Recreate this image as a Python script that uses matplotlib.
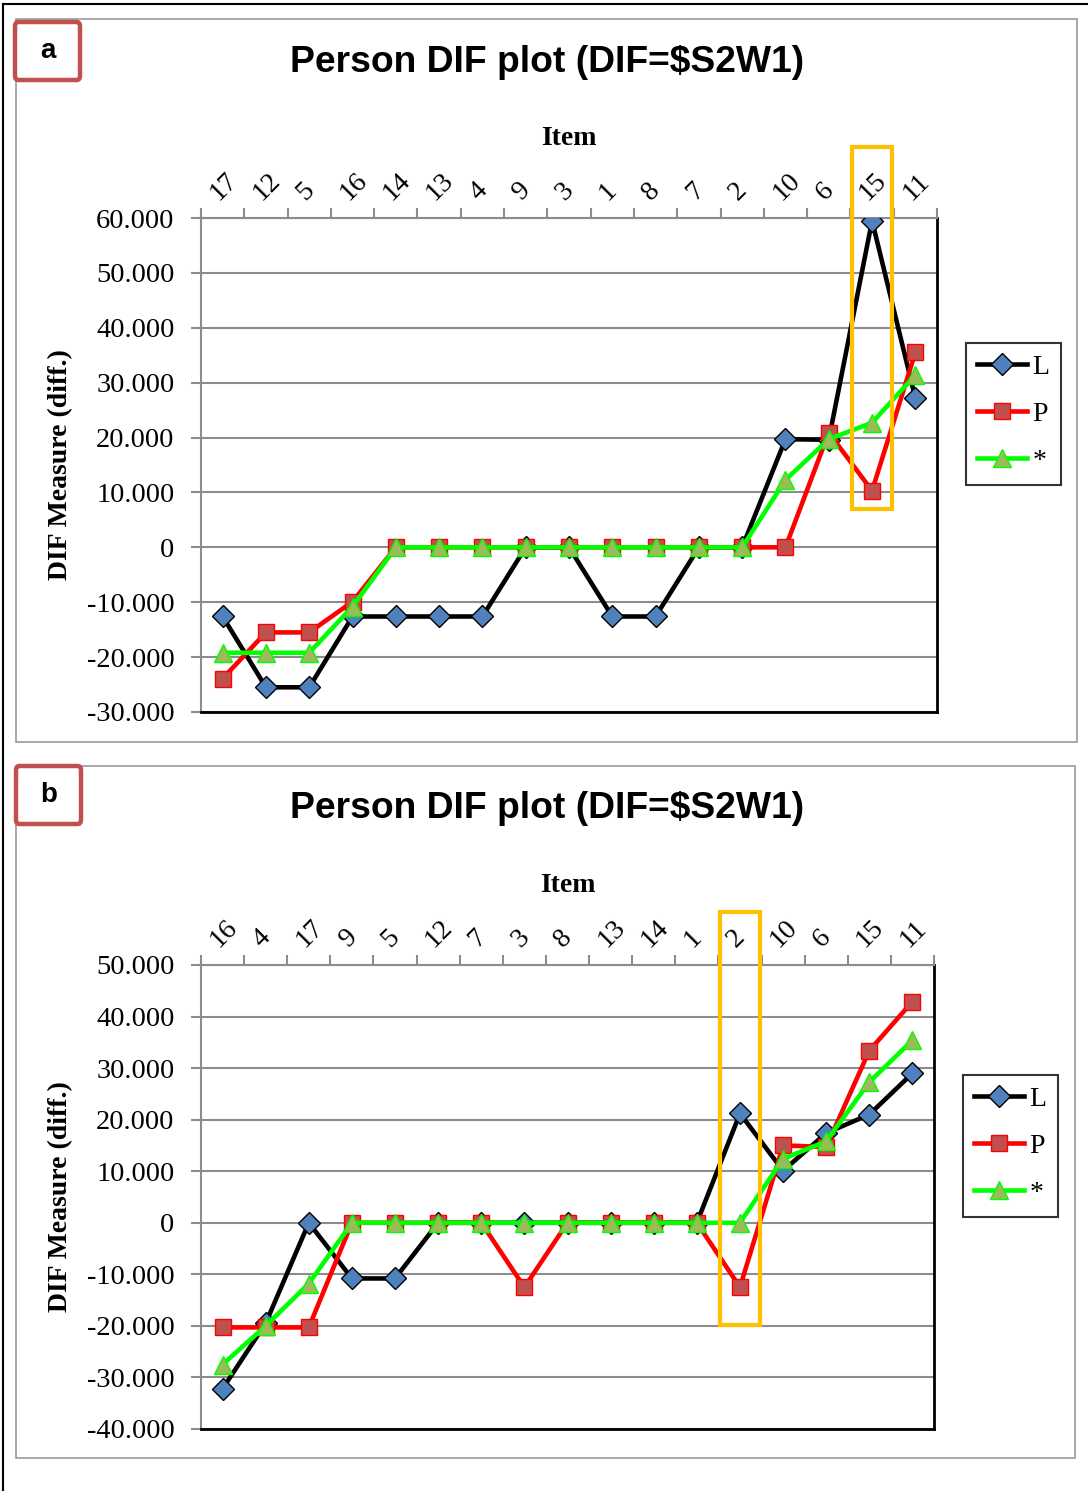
import matplotlib
matplotlib.use("Agg")
import matplotlib.pyplot as plt
from matplotlib.patches import Rectangle, FancyBboxPatch
from matplotlib.lines import Line2D

W, H = 1088, 1491

# panel a
items_a = ["17", "12", "5", "16", "14", "13", "4", "9", "3", "1", "8", "7", "2", "10", "6", "15", "11"]
L_a = [-12.6, -25.5, -25.5, -12.6, -12.6, -12.6, -12.6, 0, 0, -12.6, -12.6, 0, 0, 19.7, 19.6, 59.5, 27.2]
P_a = [-23.9, -15.5, -15.5, -9.9, 0, 0, 0, 0, 0, 0, 0, 0, 0, 0, 20.9, 10.3, 35.5]
S_a = [-19.2, -19.2, -19.2, -10.8, 0, 0, 0, 0, 0, 0, 0, 0, 0, 12.3, 19.7, 22.7, 31.4]
yticks_a = [-30, -20, -10, 0, 10, 20, 30, 40, 50, 60]

# panel b
items_b = ["16", "4", "17", "9", "5", "12", "7", "3", "8", "13", "14", "1", "2", "10", "6", "15", "11"]
L_b = [-32.2, -19.5, 0, -10.8, -10.8, 0, 0, 0, 0, 0, 0, 0, 21.2, 10.1, 17.4, 21.0, 29.0]
P_b = [-20.3, -20.3, -20.3, 0, 0, 0, 0, -12.5, 0, 0, 0, 0, -12.5, 15.0, 14.7, 33.4, 42.9]
S_b = [-27.5, -20.0, -11.8, 0, 0, 0, 0, 0, 0, 0, 0, 0, 0, 12.4, 15.8, 27.3, 35.4]
yticks_b = [-40, -30, -20, -10, 0, 10, 20, 30, 40, 50]

TITLE = "Person DIF plot (DIF=$S2W1)"
SERIF = ["Liberation Serif", "DejaVu Serif"]
SANS = ["Liberation Sans", "DejaVu Sans"]

STYLE_L = dict(color="black", lw=3.3, marker="D", ms=11, mfc="#4F81BD", mec="black", mew=1)
STYLE_P = dict(color="#FF0000", lw=3.3, marker="s", ms=12, mfc="#C0504D", mec="#FF0000", mew=1)
STYLE_S = dict(color="#00FF00", lw=3.3, marker="^", ms=13, mfc="#9BBB59", mec="#00FF00", mew=1)


def fx(x):
    return x / W


def fy(y):
    return 1 - y / H


def fig_rect(fig, x0, y0, x1, y1, color, lw):
    fig.patches.append(Rectangle((fx(x0), fy(y1)), fx(x1) - fx(x0), fy(y0) - fy(y1),
                                 transform=fig.transFigure, fill=False, edgecolor=color, linewidth=lw))


def draw_panel(fig, rect, items, L, P, S, yticks, hl_idx, hl_y, legend_xy):
    ax = fig.add_axes(rect)
    n = len(items)
    x = [i + 0.5 for i in range(n)]

    ax.plot(x, L, zorder=3, **STYLE_L)
    ax.plot(x, P, zorder=4, **STYLE_P)
    ax.plot(x, S, zorder=5, **STYLE_S)

    ax.set_xlim(0, n)
    ax.set_ylim(yticks[0], yticks[-1])
    ax.set_yticks(yticks)
    ax.set_yticklabels(["0" if v == 0 else f"{v:.3f}" for v in yticks], family=SERIF, fontsize=20.5)
    ax.grid(axis="y", color="#8c8c8c", lw=1.5)
    ax.set_axisbelow(True)

    ax.xaxis.tick_top()
    ax.xaxis.set_label_position("top")
    ax.set_xticks(range(n + 1))
    ax.set_xticklabels([])
    ax.set_xticks(x, minor=True)
    ax.set_xticklabels(items, minor=True, rotation=45, ha="left", va="bottom",
                       rotation_mode="anchor", family=SERIF, fontsize=20)
    ax.tick_params(axis="x", which="minor", length=0, pad=9)
    ax.tick_params(axis="x", which="major", length=7, color="#8c8c8c", width=1.5, direction="out")
    ax.tick_params(axis="y", length=7, color="#8c8c8c", width=1.5, direction="out", pad=12)

    ax.set_xlabel("Item", family=SERIF, fontweight="bold", fontsize=20, labelpad=17)
    ax.set_ylabel("DIF Measure (diff.)", family=SERIF, fontweight="bold", fontsize=20, labelpad=10)

    for side in ["top", "left"]:
        ax.spines[side].set_color("#8c8c8c")
        ax.spines[side].set_linewidth(1.5)
    for side in ["bottom", "right"]:
        ax.spines[side].set_color("black")
        ax.spines[side].set_linewidth(2)

    # highlight box around one item
    ax.add_patch(Rectangle((hl_idx + 0.5 - 0.47, hl_y[0]), 0.94, hl_y[1] - hl_y[0],
                           fill=False, edgecolor="#FFC000", lw=3, clip_on=False, zorder=6))

    handles = [Line2D([], [], **STYLE_L), Line2D([], [], **STYLE_P), Line2D([], [], **STYLE_S)]
    leg = fig.legend(handles, ["L", "P", "*"], loc="upper left", bbox_to_anchor=legend_xy,
                     prop={"family": SERIF, "size": 20}, frameon=True, fancybox=False,
                     handlelength=1.8, handletextpad=0.2, labelspacing=0.78,
                     borderpad=0.4, borderaxespad=0)
    leg.get_frame().set_edgecolor("black")
    leg.get_frame().set_linewidth(1.5)
    return ax


fig = plt.figure(figsize=(W / 100, H / 100), dpi=100)

# outer border (top and left)
fig.add_artist(Line2D([fx(3), fx(3)], [fy(4), fy(1491)], transform=fig.transFigure, color="black", lw=1.5))
fig.add_artist(Line2D([fx(3), fx(1088)], [fy(4), fy(4)], transform=fig.transFigure, color="black", lw=1.5))

# panel frames
fig_rect(fig, 16, 19, 1077, 742, "#999999", 1.2)
fig_rect(fig, 16, 766, 1075, 1458, "#999999", 1.2)

# panel a
draw_panel(fig, [fx(201), fy(712), fx(937) - fx(201), fy(218) - fy(712)],
           items_a, L_a, P_a, S_a, yticks_a, 15, (6.9, 73.0), (fx(966), fy(343)))
# panel b
draw_panel(fig, [fx(201), fy(1429), fx(934) - fx(201), fy(965) - fy(1429)],
           items_b, L_b, P_b, S_b, yticks_b, 12, (-19.8, 60.2), (fx(963), fy(1075)))

for y_center in (62, 808):
    fig.text(fx(547), fy(y_center), TITLE, ha="center", va="center", family=SANS,
             fontweight="bold", fontsize=26.8, parse_math=False)

# panel letters in red boxes
for (x0, y0, x1, y1), letter in [((15, 22, 80, 80), "a"), ((16, 766, 81, 824), "b")]:
    fig.patches.append(FancyBboxPatch((fx(x0), fy(y1)), fx(x1) - fx(x0), fy(y0) - fy(y1),
                                      boxstyle="round,pad=0,rounding_size=0.003",
                                      transform=fig.transFigure, facecolor="white",
                                      edgecolor="#C0504D", linewidth=3.2))
    fig.text(fx((x0 + x1) / 2), fy((y0 + y1) / 2), letter, ha="center", va="center",
             family=SANS, fontweight="bold", fontsize=20)

fig.savefig("out.png", dpi=100)
